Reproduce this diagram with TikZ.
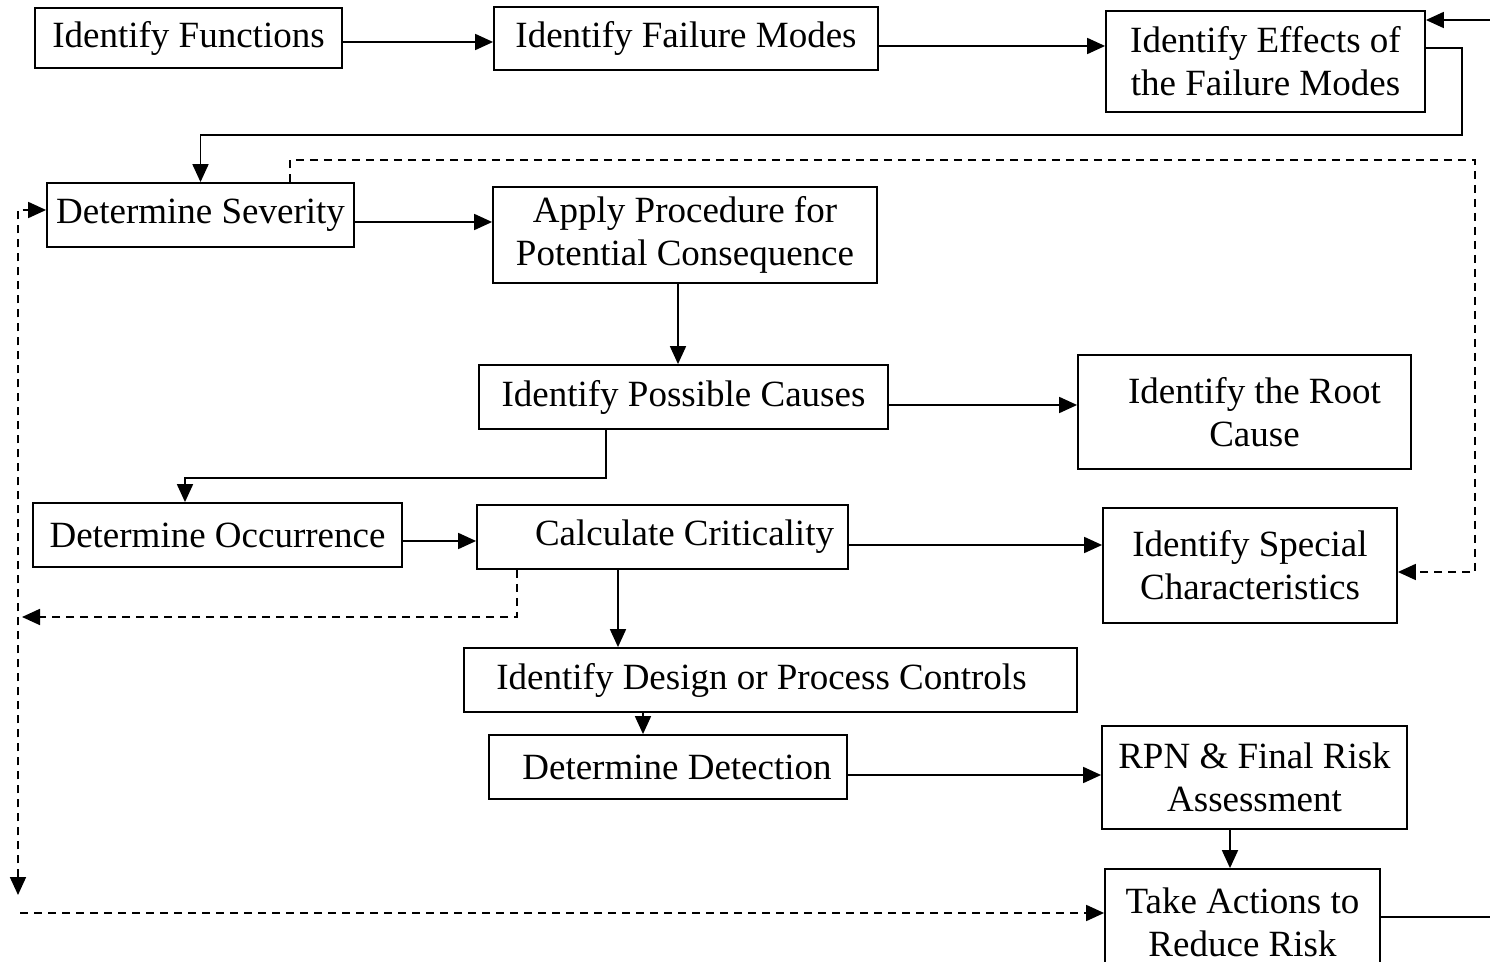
\documentclass[tikz,border=0pt]{standalone}
\usepackage{fontspec}
\setmainfont{Liberation Serif}
\usetikzlibrary{arrows.meta}

\begin{document}
\begin{tikzpicture}[
  x=0.5pt, y=-0.5pt,
  font=\fontsize{18.5}{21.5}\selectfont,
  box/.style  ={draw=black, line width=0.9pt, align=center, inner sep=0pt},
  flow/.style ={-{Triangle[length=9pt, width=8pt]}, line width=0.9pt},
  plain/.style={line width=0.9pt},
  dflow/.style={flow, dash pattern=on 4pt off 3pt},
  dbi/.style  ={{Triangle[length=9pt, width=8pt]}-{Triangle[length=9pt, width=8pt]}, line width=0.9pt, dash pattern=on 4pt off 3pt},
]
\useasboundingbox (0,0) rectangle (1490,962);

% ---------- first row ----------
\node[box, minimum width=153.5pt, minimum height=30pt]   (func)  at (188.5,38)  {Identify Functions};
\node[box, minimum width=192pt,   minimum height=31.5pt] (modes) at (686,38.5)  {Identify Failure Modes};
\node[box, minimum width=159.5pt, minimum height=50.5pt] (eff)   at (1265.5,61.5) {Identify Effects of\\the Failure Modes};

% ---------- severity and causes ----------
\node[box, minimum width=153.5pt, minimum height=32pt]   (sev)    at (200.5,215) {Determine Severity};
\node[box, minimum width=192pt,   minimum height=48pt]   (apply)  at (685,235)   {Apply Procedure for\\Potential Consequence};
\node[box, minimum width=204.5pt, minimum height=32pt]   (causes) at (683.5,397) {Identify Possible Causes};
\node[box, minimum width=166.5pt, minimum height=57pt]   (root)   at (1244.5,412) {\hspace*{10pt}Identify the Root\\\hspace*{10pt}Cause};

% ---------- occurrence and criticality ----------
\node[box, minimum width=184.5pt, minimum height=32pt]   (occ)  at (217.5,535) {Determine Occurrence};
\node[box, minimum width=185.5pt, minimum height=32pt]   (crit) at (662.5,537) {\hspace*{22pt}Calculate Criticality};
\node[box, minimum width=147pt,   minimum height=57.5pt] (spec) at (1250,565.5) {Identify Special\\Characteristics};

% ---------- detection and actions ----------
\node[box, minimum width=306.5pt, minimum height=32pt]   (ctl) at (770.5,680)  {Identify Design or Process Controls\hspace*{9pt}};
\node[box, minimum width=179pt,   minimum height=32pt]   (det) at (668,767)    {\hspace*{9pt}Determine Detection};
\node[box, minimum width=152.5pt, minimum height=51.5pt] (rpn) at (1254.5,777.5) {RPN \& Final Risk\\Assessment};
\node[box, minimum width=137.5pt, minimum height=53pt]   (act) at (1242.5,922)  {Take Actions to\\Reduce Risk};

% ---------- free ends ----------
\coordinate (inR)  at (1490,20);
\coordinate (outR) at (1490,917);
\coordinate (lb)   at (18,895);
\coordinate (lb2)  at (20,913);
\coordinate (lm)   at (22,617);

% ---------- flows ----------
\draw[flow] (func.east |- 0,42) -- (modes.west |- 0,42);
\draw[flow] (modes.east |- 0,46) -- (eff.west |- 0,46);
\draw[flow] (inR) -- (inR -| eff.east);
\draw[flow] (eff.east |- 0,48) -| (1462,135) -| (sev.north);
\draw[flow] (sev.east |- 0,222) -- (apply.west |- 0,222);
\draw[flow] (678,0 |- apply.south) -- (678,0 |- causes.north);
\draw[flow] (causes.east |- 0,405) -- (root.west |- 0,405);
\draw[flow] (606,0 |- causes.south) |- (185,478) -- (185,0 |- occ.north);
\draw[flow] (occ.east |- 0,541) -- (crit.west |- 0,541);
\draw[flow] (crit.east |- 0,545) -- (spec.west |- 0,545);
\draw[flow] (618,0 |- crit.south) -- (618,0 |- ctl.north);
\draw[flow] (643,0 |- ctl.south) -- (643,0 |- det.north);
\draw[flow] (det.east |- 0,775) -- (rpn.west |- 0,775);
\draw[flow] (1230,0 |- rpn.south) -- (1230,0 |- act.north);
\draw[plain] (act.east |- outR) -- (outR);

% ---------- dashed feedback ----------
\draw[dflow] (290,0 |- sev.north) |- (1475,160) |- (spec.east |- 0,572);
\draw[dflow] (517,0 |- crit.south) |- (lm);
\draw[dbi]   (lb) |- (sev.west |- 0,210);
\draw[dflow] (lb2) -- (lb2 -| act.west);

\end{tikzpicture}
\end{document}
